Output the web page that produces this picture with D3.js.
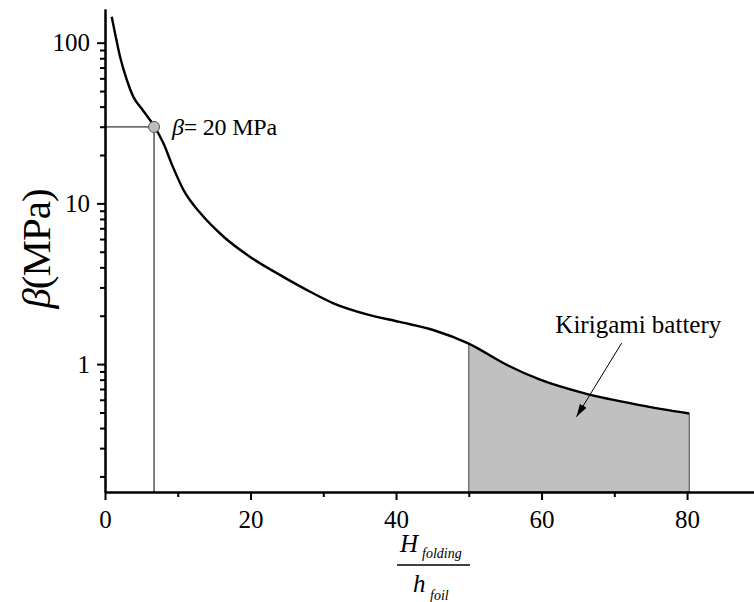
<!DOCTYPE html>
<html>
<head>
<meta charset="utf-8">
<script src="https://cdn.jsdelivr.net/npm/d3@7"></script>
<style>
  body { margin: 0; background: #fff; }
</style>
</head>
<body>
<script>
// curve: H_folding / h_foil against beta (MPa)
const ratio = [0.92, 1.37, 2.06, 2.98, 3.9, 5.2, 6.6, 8.0, 9.3, 10.8, 13.1, 16.3, 19.9, 24.5, 28.2, 31.4, 36.0, 40.5, 45.1, 50.0, 55.2, 59.8, 65.8, 73.5, 80.3];
const beta = [145, 115, 82, 59, 46, 38, 31, 23.8, 17, 12.1, 8.7, 6.2, 4.66, 3.49, 2.82, 2.39, 2.04, 1.83, 1.63, 1.34, 0.99, 0.80, 0.66, 0.556, 0.493];

const xMajor = [0, 20, 40, 60, 80];
const xMinor = [10, 30, 50, 70];
const yMajor = [1, 10, 100];
const yMinor = [0.2, 0.3, 0.4, 0.5, 0.6, 0.7, 0.8, 0.9, 2, 3, 4, 5, 6, 7, 8, 9, 20, 30, 40, 50, 60, 70, 80, 90];

const marker = {x: 6.74, y: 29.9};
const shadeFrom = 50;
const shadeTo = 80.3;

const serif = 'Liberation Serif';
const width = 754;
const height = 602;
const margin = {top: 9, right: 0, bottom: 110, left: 105};

const data = ratio.map((r, i) => ({x: r, y: beta[i]}));

const svg = d3.select('body')
    .append('svg')
    .attr('width', width)
    .attr('height', height)
    .style('font-family', serif);

const xScale = d3.scaleLinear()
    .domain([0, 89.2])
    .range([margin.left, width - margin.right]);

const yScale = d3.scaleLog()
    .domain([0.16, 162])
    .range([height - margin.bottom, margin.top]);

const bottom = yScale.range()[0];

// shaded kirigami region
const shaded = data.filter(d => d.x >= shadeFrom && d.x <= shadeTo);
const area = d3.area()
    .x(d => xScale(d.x))
    .y0(bottom)
    .y1(d => yScale(d.y))
    .curve(d3.curveMonotoneX);
svg.append('path')
    .datum(shaded)
    .attr('fill', '#c0c0c0')
    .attr('stroke', '#444')
    .attr('stroke-width', 1)
    .attr('d', area);

// guide lines to the marker
svg.append('line')
    .attr('x1', xScale(0)).attr('x2', xScale(marker.x))
    .attr('y1', yScale(marker.y)).attr('y2', yScale(marker.y))
    .attr('stroke', '#000').attr('stroke-width', 1);
svg.append('line')
    .attr('x1', xScale(marker.x)).attr('x2', xScale(marker.x))
    .attr('y1', yScale(marker.y)).attr('y2', bottom)
    .attr('stroke', '#000').attr('stroke-width', 1);

// the curve
const line = d3.line()
    .x(d => xScale(d.x))
    .y(d => yScale(d.y))
    .curve(d3.curveMonotoneX);
svg.append('path')
    .datum(data)
    .attr('fill', 'none')
    .attr('stroke', '#000')
    .attr('stroke-width', 2.4)
    .attr('d', line);

svg.append('circle')
    .attr('cx', xScale(marker.x))
    .attr('cy', yScale(marker.y))
    .attr('r', 5.5)
    .attr('fill', '#bdbdbd')
    .attr('stroke', '#555')
    .attr('stroke-width', 1);

// axes
function styleAxis(g) {
    g.attr('font-family', serif);
    g.select('.domain').attr('stroke-width', 2);
    g.selectAll('.tick line').attr('stroke-width', 2);
    g.selectAll('.tick text')
        .style('font-family', serif)
        .style('font-size', '25px');
}

svg.append('g')
    .attr('transform', 'translate(0,' + bottom + ')')
    .call(d3.axisBottom(xScale).tickValues(xMinor).tickSize(5).tickSizeOuter(0).tickFormat(''))
    .call(styleAxis);
svg.append('g')
    .attr('transform', 'translate(0,' + bottom + ')')
    .call(d3.axisBottom(xScale).tickValues(xMajor).tickSize(8).tickSizeOuter(0).tickPadding(10).tickFormat(d3.format('d')))
    .call(styleAxis);

svg.append('g')
    .attr('transform', 'translate(' + margin.left + ',0)')
    .call(d3.axisLeft(yScale).tickValues(yMinor).tickSize(5).tickSizeOuter(0).tickFormat(''))
    .call(styleAxis);
svg.append('g')
    .attr('transform', 'translate(' + margin.left + ',0)')
    .call(d3.axisLeft(yScale).tickValues(yMajor).tickSize(8).tickSizeOuter(0).tickPadding(7).tickFormat(d3.format('d')))
    .call(styleAxis);

// y axis title
const yTitle = svg.append('text')
    .attr('transform', 'translate(50,249) rotate(-90)')
    .attr('text-anchor', 'middle')
    .style('font-family', serif)
    .style('font-size', '41px')
    .style('letter-spacing', '-1px');
yTitle.append('tspan').style('font-style', 'italic').text('β');
yTitle.append('tspan').text('(MPa)');

// x axis title, written as a fraction
const xt = svg.append('g')
    .style('font-family', serif)
    .style('font-style', 'italic');
xt.append('text').attr('x', 400).attr('y', 552).style('font-size', '25px').text('H');
xt.append('text').attr('x', 422).attr('y', 558).style('font-size', '14px').text('folding');
xt.append('line')
    .attr('x1', 397).attr('x2', 470)
    .attr('y1', 565).attr('y2', 565)
    .attr('stroke', '#000').attr('stroke-width', 1.3);
xt.append('text').attr('x', 413).attr('y', 592).style('font-size', '25px').text('h');
xt.append('text').attr('x', 430).attr('y', 600).style('font-size', '14px').text('foil');

// annotations
const note = svg.append('text')
    .attr('x', xScale(9.2))
    .attr('y', yScale(26.6))
    .style('font-family', serif)
    .style('font-size', '24px')
    .style('letter-spacing', '-0.2px');
note.append('tspan').style('font-style', 'italic').text('β');
note.append('tspan').text('= 20 MPa');

svg.append('text')
    .attr('x', xScale(61.9))
    .attr('y', yScale(1.56))
    .style('font-family', serif)
    .style('font-size', '25px')
    .text('Kirigami battery');

svg.append('defs').append('marker')
    .attr('id', 'arrow')
    .attr('viewBox', '0 0 10 10')
    .attr('refX', 10).attr('refY', 5)
    .attr('markerWidth', 13).attr('markerHeight', 13)
    .attr('markerUnits', 'userSpaceOnUse')
    .attr('orient', 'auto')
    .append('path')
    .attr('d', 'M0,2L10,5L0,8Z')
    .attr('fill', '#000');

svg.append('line')
    .attr('x1', xScale(71.0)).attr('y1', yScale(1.35))
    .attr('x2', xScale(64.8)).attr('y2', yScale(0.47))
    .attr('stroke', '#000')
    .attr('stroke-width', 1)
    .attr('marker-end', 'url(#arrow)');
</script>
</body>
</html>
